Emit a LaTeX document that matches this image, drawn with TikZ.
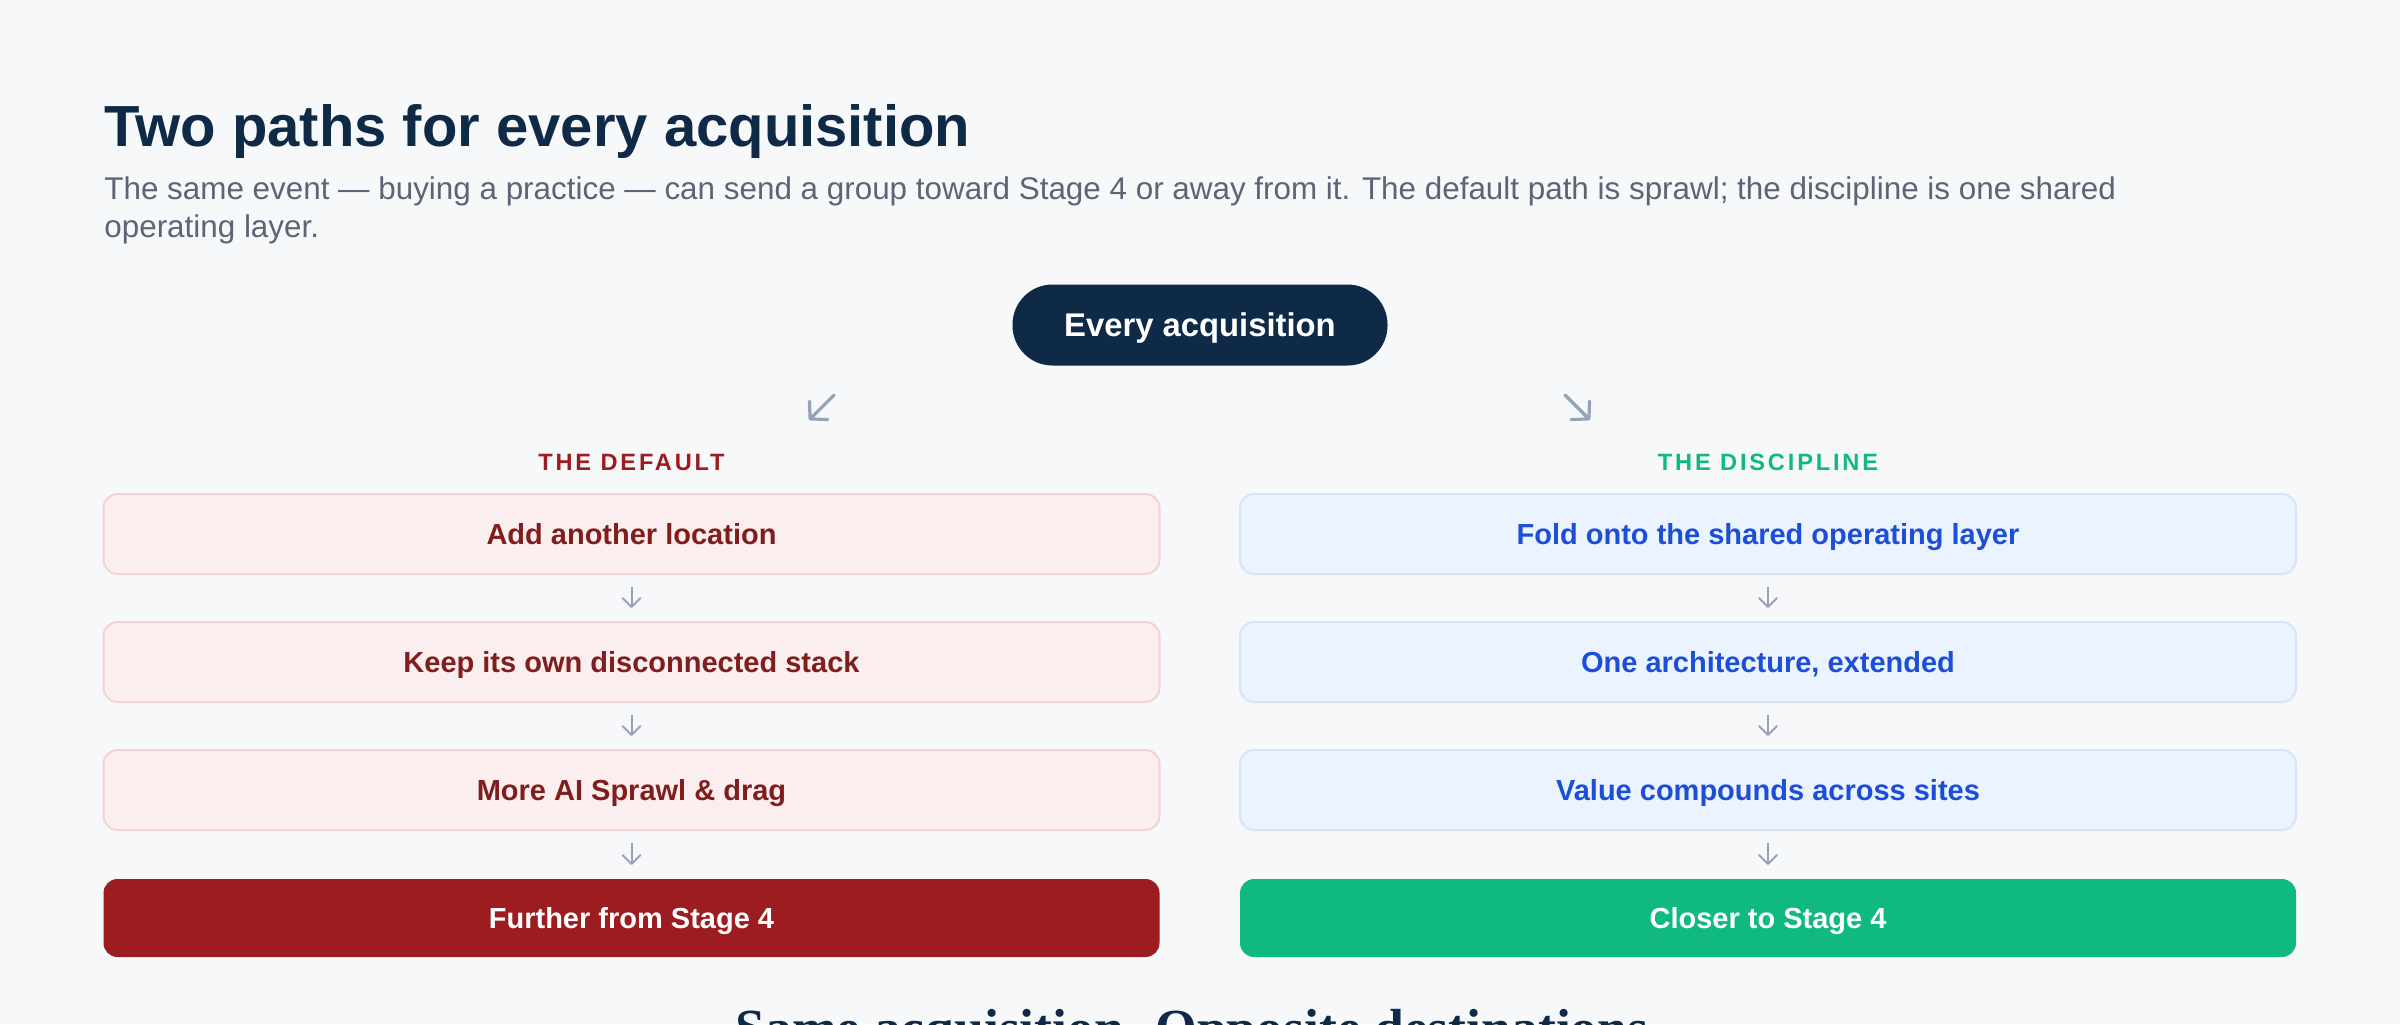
\documentclass[tikz,border=0pt]{standalone}
\usepackage{fontspec}
\setmainfont{Liberation Sans}
\newfontfamily\headserif{Liberation Serif}
\newfontfamily\spacedcaps[LetterSpace=12]{Liberation Sans}
\usetikzlibrary{positioning,arrows.meta}

\definecolor{pagebg}{HTML}{F7F8FA}
\definecolor{navy}{HTML}{0F2A47}
\definecolor{slate}{HTML}{5B6576}
\definecolor{arrowgray}{HTML}{94A3B8}
\definecolor{deepred}{HTML}{9C1C1F}
\definecolor{redtext}{HTML}{801D1D}
\definecolor{redfill}{HTML}{FBEEEE}
\definecolor{redline}{HTML}{F4D3D3}
\definecolor{bluefill}{HTML}{EBF3FE}
\definecolor{blueline}{HTML}{D5E5FB}
\definecolor{bluetext}{HTML}{1D4ED8}
\definecolor{emerald}{HTML}{10B981}

\begin{document}
\begin{tikzpicture}[x=0.5pt,y=-0.5pt,node distance=64pt,on grid,
	box/.style={rectangle,rounded corners=7pt,minimum width=528pt,minimum height=40pt,inner sep=0pt,text height=10.4pt,text depth=0pt,line width=1pt,font=\fontsize{14.5pt}{17pt}\selectfont\bfseries},
	sprawl/.style={box,draw=redline,fill=redfill,text=redtext},
	shared/.style={box,draw=blueline,fill=bluefill,text=bluetext},
	worse/.style={box,minimum height=39pt,fill=deepred,text=white},
	better/.style={box,minimum height=39pt,fill=emerald,text=white},
	pill/.style={rectangle,rounded corners=20pt,minimum width=187.5pt,minimum height=40.5pt,inner sep=0pt,text height=11.7pt,text depth=0pt,fill=navy,text=white,font=\fontsize{16.4pt}{19pt}\selectfont\bfseries},
	side/.style={inner sep=0pt,anchor=base,font=\fontsize{11.8pt}{14pt}\spacedcaps\bfseries},
	intro/.style={inner sep=0pt,anchor=base west,text=slate,font=\fontsize{15.7pt}{18.7pt}\selectfont},
	flow/.style={draw=arrowgray,line width=1pt,-{Straight Barb[length=4.5pt,width=9pt,round]},shorten <=6pt,shorten >=6.5pt},
	fork/.style={draw=arrowgray,line width=1.6pt,line cap=round,-{Straight Barb[length=6pt,width=13pt,round]}}] 
	\useasboundingbox (0,0) rectangle (2400,1024);
	\fill[pagebg] (0,0) rectangle (2400,1024);
	\clip (0,0) rectangle (2400,1024);

	% heading
	\node[inner sep=0pt,anchor=base west,text=navy,font=\fontsize{29pt}{34pt}\selectfont\bfseries] (title) at (104,146) {Two paths for every acquisition};
	\node[intro] (intro1) at (104,199) {The same event --- buying a practice --- can send a group toward Stage 4 or away from it. The default path is sprawl; the discipline is one shared};
	\node[intro] (intro2) at (104,237) {operating layer.};

	% start
	\node[pill] (start) at (1200,325) {Every acquisition};
	\coordinate (sw0) at (834,395); \coordinate (sw1) at (809,420);
	\coordinate (se0) at (1565,395); \coordinate (se1) at (1590,420);
	\draw[fork] (sw0) -- (sw1);
	\draw[fork] (se0) -- (se1);

	\node[side,text=deepred] (deflabel) at (631.5,470) {THE DEFAULT};
	\node[side,text=emerald] (dislabel) at (1768,470) {THE DISCIPLINE};

	% default path
	\node[sprawl] (d1) at (631.5,534) {Add another location};
	\node[sprawl] (d2) [below=of d1] {Keep its own disconnected stack};
	\node[sprawl] (d3) [below=of d2] {More AI Sprawl \& drag};
	\node[worse] (d4) [below=of d3] {Further from Stage 4};

	% discipline path
	\node[shared] (s1) at (1768,534) {Fold onto the shared operating layer};
	\node[shared] (s2) [below=of s1] {One architecture, extended};
	\node[shared] (s3) [below=of s2] {Value compounds across sites};
	\node[better] (s4) [below=of s3] {Closer to Stage 4};

	\path[flow] (d1) edge (d2) (d2) edge (d3) (d3) edge (d4)
		(s1) edge (s2) (s2) edge (s3) (s3) edge (s4);

	\node[inner sep=0pt,anchor=base,text=navy,font=\fontsize{26.8pt}{30pt}\headserif\bfseries] (tagline) at (1192,1046) {Same acquisition. Opposite destinations};
\end{tikzpicture}
\end{document}
